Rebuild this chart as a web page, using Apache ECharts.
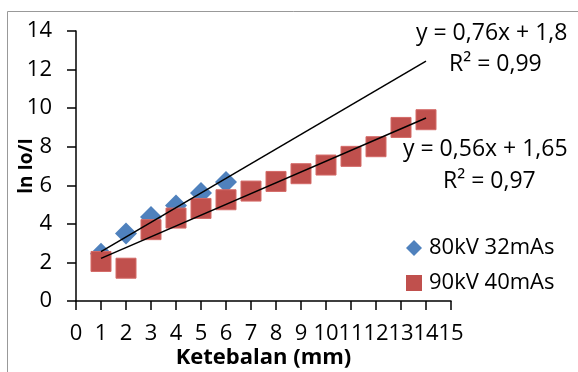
<!DOCTYPE html>
<html>
<head>
<meta charset="utf-8">
<script src="https://cdn.jsdelivr.net/npm/echarts@6/dist/echarts.min.js"></script>
<style>
  html, body { margin: 0; padding: 0; background: #fff; }
  #chart { width: 578px; height: 372px; }
</style>
</head>
<body>
<div id="chart"></div>
<script>
const FONT = "Open Sans";

// thickness (mm) and ln Io/I values
const x80 = [1, 2, 3, 4, 5, 6];
const y80 = [2.45, 3.5, 4.35, 4.95, 5.6, 6.17];
const x90 = [1, 2, 3, 4, 5, 6, 7, 8, 9, 10, 11, 12, 13, 14];
const y90 = [2.05, 1.7, 3.7, 4.3, 4.8, 5.25, 5.7, 6.2, 6.6, 7.05, 7.5, 8.0, 9.0, 9.4];

// linear trend lines (slope, intercept) as printed on the chart
const trend80 = [0.76, 1.8];
const trend90 = [0.56, 1.65];
const trendRange = [1, 14];
const eq80 = ["y = 0,76x + 1,8", "R² = 0,99"];
const eq90 = ["y = 0,56x + 1,65", "R² = 0,97"];

const seriesNames = ["80kV 32mAs", "90kV 40mAs"];

const pairs = (xs, ys) => xs.map((x, i) => [x, ys[i]]);
const trendLine = (t) => trendRange.map((x) => [x, t[0] * x + t[1]]);

const chart = echarts.init(document.getElementById("chart"));

const axisText = { color: "#000", fontFamily: FONT, fontSize: 22 };
const eqText = (x, y, text) => ({
  type: "text",
  left: x,
  top: y,
  style: { text, fill: "#000", font: `23px "${FONT}"` },
});

chart.setOption({
  animation: false,
  grid: {
    left: 76,
    top: 31,
    width: 375,
    height: 270,
    containLabel: false,
    outerBoundsMode: "none",
  },
  xAxis: {
    type: "value",
    min: 0,
    max: 15,
    interval: 1,
    name: "Ketebalan (mm)",
    nameLocation: "middle",
    nameGap: 46,
    nameMoveOverlap: false,
    nameTextStyle: { color: "#000", fontFamily: FONT, fontSize: 22, fontWeight: "bold" },
    axisLine: { lineStyle: { color: "#000", width: 1.5 } },
    axisTick: { length: 9, lineStyle: { color: "#000", width: 1.5 } },
    axisLabel: { ...axisText, margin: 22 },
    splitLine: { show: false },
  },
  yAxis: {
    type: "value",
    min: 0,
    max: 14,
    interval: 2,
    name: "ln Io/I",
    nameLocation: "middle",
    nameGap: 40,
    nameMoveOverlap: false,
    nameTextStyle: { color: "#000", fontFamily: FONT, fontSize: 19, fontWeight: "bold" },
    axisLine: { show: true, lineStyle: { color: "#000", width: 1.5 } },
    axisTick: { show: true, length: 9, lineStyle: { color: "#000", width: 1.5 } },
    axisLabel: { ...axisText, margin: 24 },
    splitLine: { show: false },
  },
  legend: {
    orient: "vertical",
    left: 401,
    top: 232,
    itemWidth: 16,
    itemHeight: 16,
    itemGap: 13,
    itemStyle: { borderWidth: 0 },
    data: [
      { name: seriesNames[0], icon: "diamond" },
      { name: seriesNames[1], icon: "rect" },
    ],
    textStyle: { color: "#000", fontFamily: FONT, fontSize: 22, padding: [0, 0, 0, 2] },
  },
  graphic: [
    eqText(416, 22, eq80[0]),
    eqText(449, 53, eq80[1]),
    eqText(403, 138, eq90[0]),
    eqText(443, 170, eq90[1]),
    {
      type: "rect",
      shape: { x: 7.5, y: 11.5, width: 620, height: 420 },
      style: { fill: null, stroke: "#999", lineWidth: 1 },
      z: -1,
    },
  ],
  series: [
    {
      name: seriesNames[0],
      type: "scatter",
      symbol: "diamond",
      symbolSize: 22,
      itemStyle: { color: "#4F81BD", opacity: 1 },
      data: pairs(x80, y80),
      z: 2,
    },
    {
      name: seriesNames[1],
      type: "scatter",
      symbol: "rect",
      symbolSize: 20,
      itemStyle: { color: "#C0504D", borderColor: "#D46A67", borderWidth: 1, opacity: 1 },
      data: pairs(x90, y90),
      z: 3,
    },
    {
      type: "line",
      data: trendLine(trend80),
      symbol: "none",
      lineStyle: { color: "#000", width: 1.5 },
      z: 4,
      silent: true,
    },
    {
      type: "line",
      data: trendLine(trend90),
      symbol: "none",
      lineStyle: { color: "#000", width: 1.5 },
      z: 4,
      silent: true,
    },
  ],
});
</script>
</body>
</html>
